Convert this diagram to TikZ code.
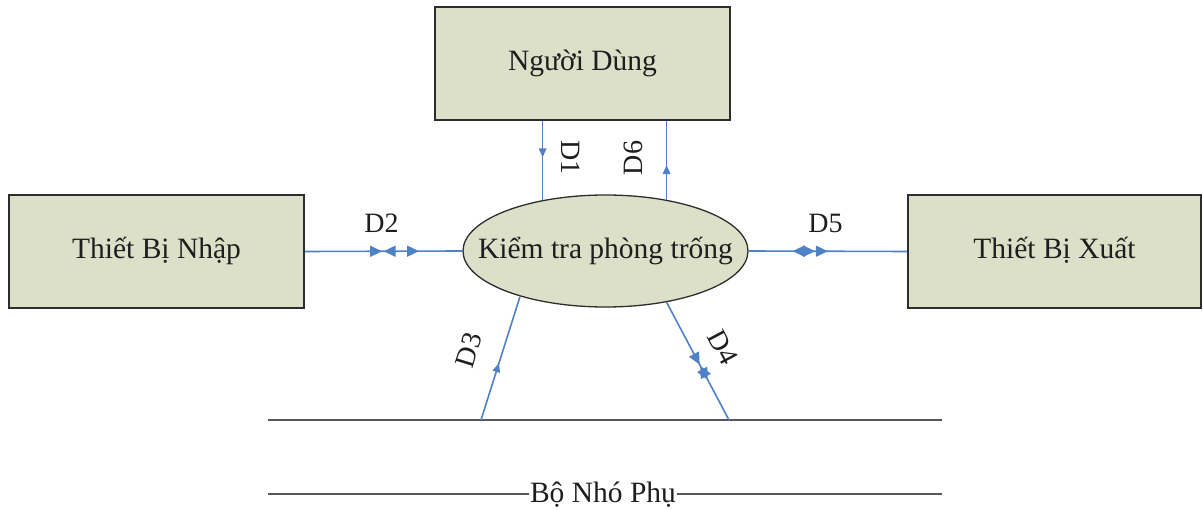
\documentclass[tikz,border=0pt]{standalone}
\usepackage{fontspec}
\setmainfont{Liberation Serif}
\usetikzlibrary{shapes.geometric,arrows.meta,decorations.markings}
\definecolor{boxfill}{RGB}{221,224,201}
\definecolor{boxline}{RGB}{45,45,45}
\definecolor{flow}{RGB}{79,129,199}
\definecolor{ink}{RGB}{30,30,30}
\tikzset{
  entity/.style={draw=boxline, line width=1.8pt, fill=boxfill, minimum width=294pt,
    minimum height=113pt, inner sep=0pt, font=\fontsize{29.5}{31}\selectfont, text=ink,
    text height=15pt, text depth=0pt},
  process/.style={ellipse, draw=boxline, line width=1.3pt, fill=boxfill, minimum width=285pt,
    minimum height=112pt, inner sep=0pt, font=\fontsize{29.5}{31}\selectfont, text=ink,
    text height=15pt, text depth=0pt},
  flowline/.style={draw=flow, line width=1.6pt},
  storeline/.style={draw=boxline!80, line width=1.4pt},
  flowlabel/.style={font=\fontsize{28}{30}\selectfont, text=ink, inner sep=0pt},
  % single-headed flows: small tip; two-way flows: larger tips
  fwd/.style={postaction={decorate, decoration={markings,
    mark=at position #1 with {\arrow{Triangle[length=9pt,width=7.5pt]}}}}},
  fwdbig/.style={postaction={decorate, decoration={markings,
    mark=at position #1 with {\arrow{Triangle[length=12pt,width=11pt]}}}}},
  bwdbig/.style={postaction={decorate, decoration={markings,
    mark=at position #1 with {\arrowreversed{Triangle[length=12pt,width=11pt]}}}}},
}
\begin{document}
\begin{tikzpicture}[x=1pt, y=-1pt]
\useasboundingbox (0,0) rectangle (1203,510);

% external entities and the process
\node[entity, minimum width=295pt] (nd) at (582.5,63.5) {Người Dùng};
\node[entity, minimum width=295pt] (tn) at (156.5,251.5) {Thiết Bị Nhập};
\node[entity, minimum width=293pt] (tx) at (1054.5,251.5) {Thiết Bị Xuất};
\node[process] (kt) at (605.5,251) {\makebox[200pt]{Kiểm tra phòng trống}};

% data store: two horizontal lines, name set into the lower one
\coordinate (sa) at (268,420);
\coordinate (sb) at (942,420);
\coordinate (sc) at (268,494);
\coordinate (sd) at (942,494);
\node[font=\fontsize{29.5}{31}\selectfont, text=ink, inner sep=1pt, anchor=base] (bn) at (603,503) {Bộ Nhó Phụ};
\draw[storeline] (sa) -- (sb);
\draw[storeline] (sc) -- (bn.west |- sc);
\draw[storeline] (bn.east |- sd) -- (sd);

% points where the store flows meet the upper line
\coordinate (s3) at (481,420);
\coordinate (s4) at (729,420);

% data flows
\draw[flowline, fwd=0.46] (kt.141.6 |- nd.south) -- (kt.141.6);
\draw[flowline, fwd=0.44] (kt.40.3) -- (kt.40.3 |- nd.south);
\draw[flowline, fwdbig=0.49, bwdbig=0.5, fwdbig=0.725] (tn.east) -- (kt.west);
\draw[flowline, bwdbig=0.277, fwdbig=0.42, fwdbig=0.5] (kt.east) -- (tx.west);
\draw[flowline, fwd=0.46] (s3) -- (kt.208.4);
\draw[flowline, fwdbig=0.53, bwdbig=0.54, fwdbig=0.66] (kt.320.5) -- (s4);

% flow labels
\node[flowlabel, rotate=-90] (l1) at (570.5,157.5) {D1};
\node[flowlabel, rotate=90] (l6) at (633,158) {D6};
\node[flowlabel] (l2) at (381.5,223.5) {D2};
\node[flowlabel] (l5) at (825.5,223.5) {D5};
\node[flowlabel, rotate=73] (l3) at (469,350) {D3};
\node[flowlabel, rotate=-62] (l4) at (723,347) {D4};
\end{tikzpicture}
\end{document}
